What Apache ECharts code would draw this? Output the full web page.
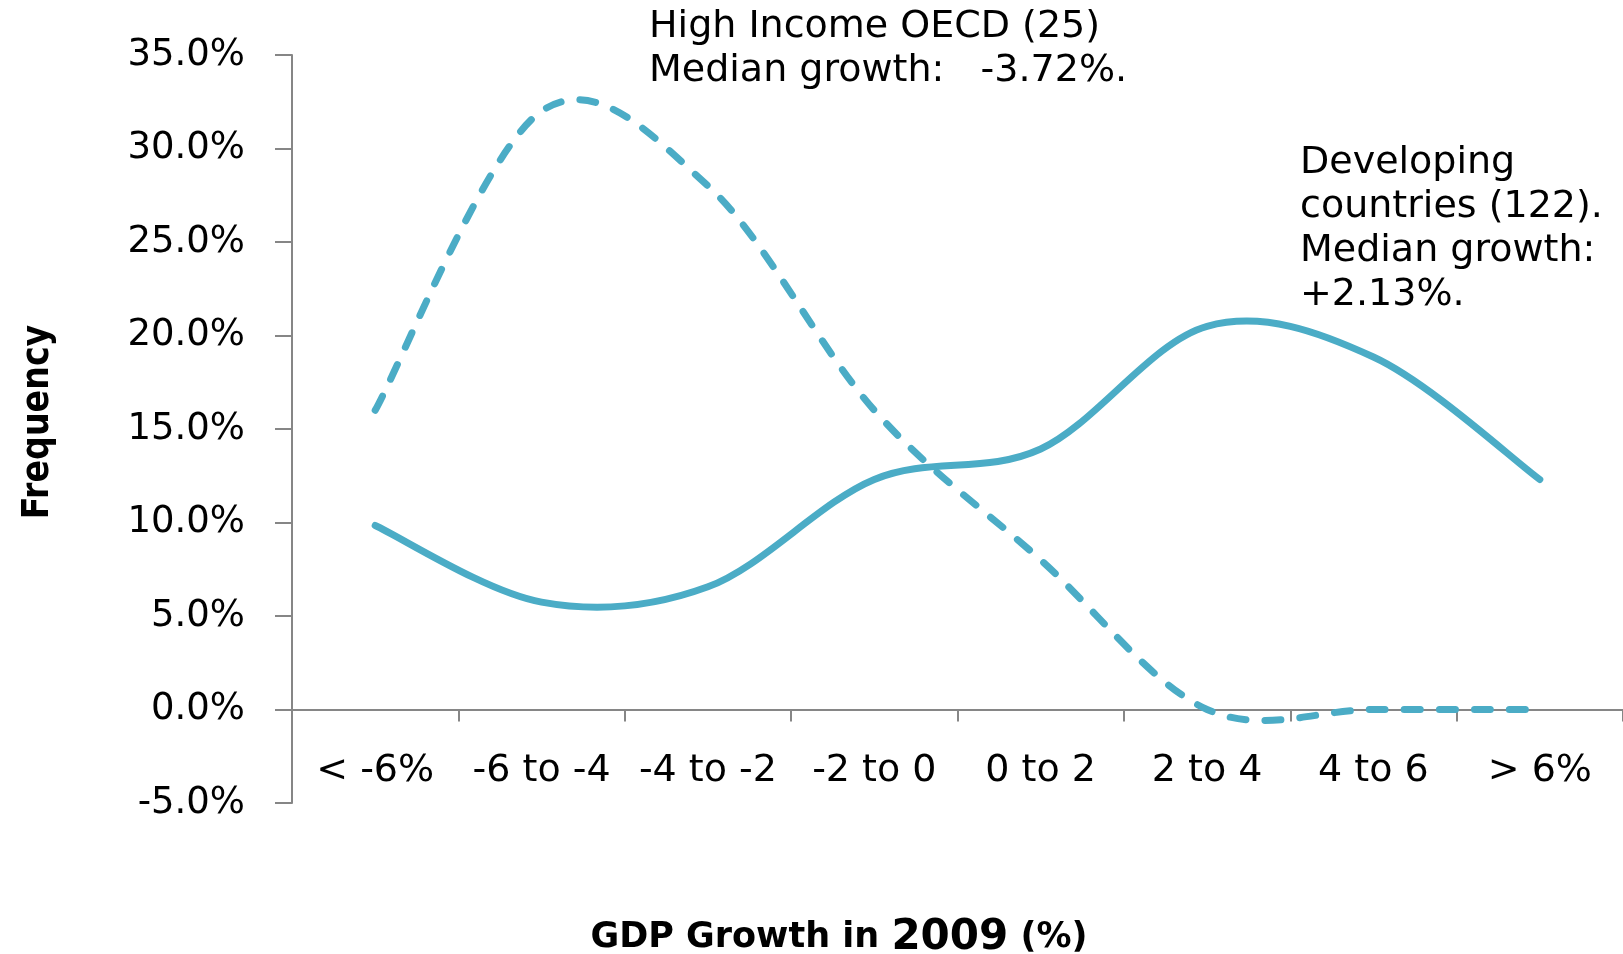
<!DOCTYPE html>
<html>
<head>
<meta charset="utf-8">
<script src="https://cdn.jsdelivr.net/npm/echarts@6/dist/echarts.min.js"></script>
<style>
html,body{margin:0;padding:0;background:#fff;}
#chart{width:1623px;height:954px;}
</style>
</head>
<body>
<div id="chart"></div>
<script>
const categories = ['< -6%', '-6 to -4', '-4 to -2', '-2 to 0', '0 to 2', '2 to 4', '4 to 6', '> 6%'];
const developing = [9.84, 5.74, 6.56, 12.30, 13.93, 20.49, 18.85, 12.30];
const oecd = [16.0, 32.0, 28.0, 16.0, 8.0, 0.0, 0.0, 0.0];
const yTicks = { min: -5, max: 35, interval: 5 };
const oecdNote = 'High Income OECD (25)\nMedian growth:   -3.72%.';
const devNote = 'Developing\ncountries (122).\nMedian growth:\n+2.13%.';
const yTitle = 'Frequency';
const xTitle = '{a|GDP Growth in }{b|2009}{a| (%)}';

const FONT = '"DejaVu Sans", sans-serif';
const axisColor = '#868686';
const lineColor = '#4BACC6';

// Excel-style smoothed line (Catmull-Rom through the data points, via axis coords)
function smoothSeries(name, values, dash) {
  return {
    name: name,
    type: 'custom',
    xAxisIndex: 0,
    yAxisIndex: 0,
    data: values.map((v, i) => [i, v]),
    encode: { x: 0, y: 1 },
    z: 3,
    renderItem: function (params, api) {
      if (params.dataIndex !== 0) return null;
      const pts = values.map((v, i) => api.coord([i, v]));
      let d = 'M' + pts[0][0] + ' ' + pts[0][1];
      for (let i = 0; i < pts.length - 1; i++) {
        const p0 = pts[i - 1] || pts[i];
        const p1 = pts[i];
        const p2 = pts[i + 1];
        const p3 = pts[i + 2] || pts[i + 1];
        const c1x = p1[0] + (p2[0] - p0[0]) / 6, c1y = p1[1] + (p2[1] - p0[1]) / 6;
        const c2x = p2[0] - (p3[0] - p1[0]) / 6, c2y = p2[1] - (p3[1] - p1[1]) / 6;
        d += ' C' + c1x + ' ' + c1y + ' ' + c2x + ' ' + c2y + ' ' + p2[0] + ' ' + p2[1];
      }
      return {
        type: 'path',
        shape: { pathData: d },
        style: { fill: 'none', stroke: lineColor, lineWidth: 7, lineDash: dash, lineCap: 'round' }
      };
    }
  };
}

const chart = echarts.init(document.getElementById('chart'), null, { renderer: 'canvas' });
chart.setOption({
  backgroundColor: '#ffffff',
  animation: false,
  grid: { left: 292, right: 0, top: 55, bottom: 151, containLabel: false },
  xAxis: [
    {
      type: 'category',
      data: categories,
      boundaryGap: true,
      axisLine: { show: true, onZero: true, lineStyle: { color: axisColor, width: 2 } },
      axisTick: { show: true, length: 12, lineStyle: { color: axisColor, width: 2 } },
      axisLabel: { show: false },
      splitLine: { show: false }
    },
    {
      type: 'category',
      data: categories,
      boundaryGap: true,
      position: 'bottom',
      offset: -51,
      axisLine: { show: false, onZero: false },
      axisTick: { show: false },
      axisLabel: { interval: 0, fontSize: 38, fontFamily: FONT, color: '#000', margin: 0 },
      splitLine: { show: false }
    }
  ],
  yAxis: {
    type: 'value',
    min: yTicks.min, max: yTicks.max, interval: yTicks.interval,
    axisLine: { show: true, lineStyle: { color: axisColor, width: 2 } },
    axisTick: { show: true, length: 17, lineStyle: { color: axisColor, width: 2 } },
    axisLabel: { fontSize: 37, fontFamily: FONT, color: '#000', margin: 47,
      formatter: v => v.toFixed(1) + '%' },
    splitLine: { show: false }
  },
  series: [
    smoothSeries('Developing countries', developing, null),
    smoothSeries('High Income OECD', oecd, [16, 19])
  ],
  graphic: [
    { type: 'text', left: 649, top: 5,
      style: { text: oecdNote, font: '38px ' + FONT, fill: '#000', lineHeight: 44 } },
    { type: 'text', left: 1300, top: 141,
      style: { text: devNote, font: '38px ' + FONT, fill: '#000', lineHeight: 44 } },
    { type: 'text', x: 38, y: 422, rotation: Math.PI / 2,
      style: { text: yTitle, font: 'bold 37px "Liberation Sans Narrow", "DejaVu Sans Condensed", sans-serif',
        fill: '#000', align: 'center', verticalAlign: 'middle' } },
    { type: 'text', x: 839, y: 938,
      style: { text: xTitle, align: 'center', verticalAlign: 'middle', fill: '#000',
        rich: {
          a: { fontSize: 35, fontWeight: 'bold', fontFamily: FONT, fill: '#000' },
          b: { fontSize: 42, fontWeight: 'bold', fontFamily: FONT, fill: '#000' }
        } } }
  ]
});
</script>
</body>
</html>
